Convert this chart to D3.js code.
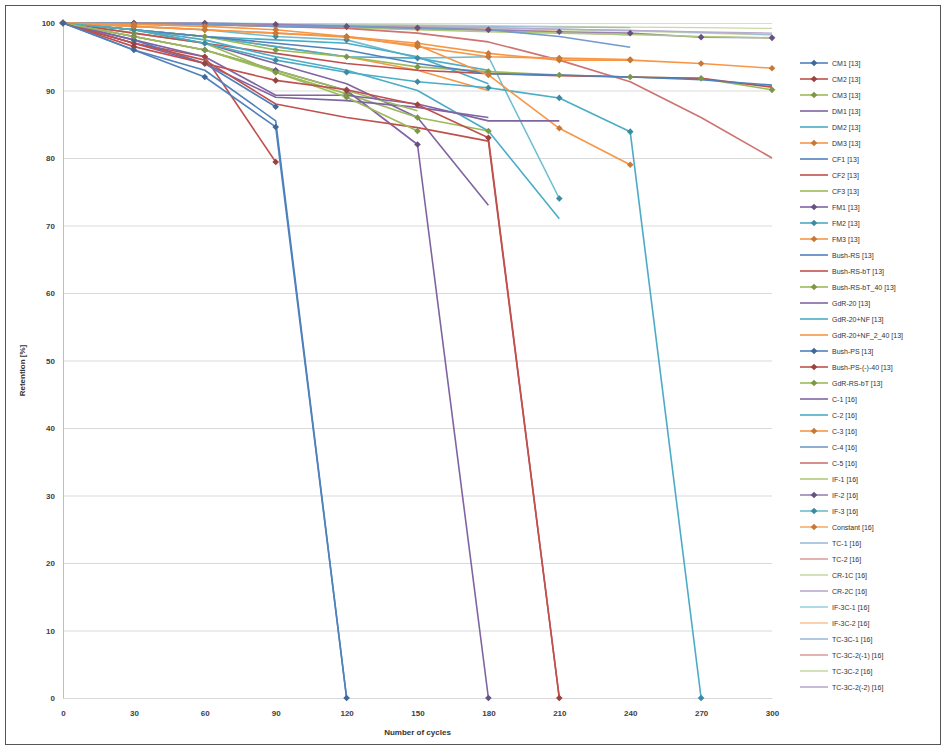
<!DOCTYPE html>
<html>
<head>
<meta charset="utf-8">
<script src="https://cdn.jsdelivr.net/npm/d3@7"></script>
<style>
  html, body { margin: 0; padding: 0; background: #fff; }
  svg { display: block; font-family: "Liberation Sans", Arial, sans-serif; }
</style>
</head>
<body>
<svg id="chart" width="946" height="749"></svg>
<script>
// ---------------- DATA ----------------
const cycles = [0, 30, 60, 90, 120, 150, 180, 210, 240, 270, 300];
const xTicks = [0, 30, 60, 90, 120, 150, 180, 210, 240, 270, 300];
const yTicks = [0, 10, 20, 30, 40, 50, 60, 70, 80, 90, 100];

const seriesNames = [
  "CM1 [13]", "CM2 [13]", "CM3 [13]", "DM1 [13]", "DM2 [13]", "DM3 [13]",
  "CF1 [13]", "CF2 [13]", "CF3 [13]", "FM1 [13]", "FM2 [13]", "FM3 [13]",
  "Bush-RS [13]", "Bush-RS-bT [13]", "Bush-RS-bT_40 [13]", "GdR-20 [13]",
  "GdR-20+NF [13]", "GdR-20+NF_2_40 [13]", "Bush-PS [13]", "Bush-PS-(-)-40 [13]",
  "GdR-RS-bT [13]", "C-1 [16]", "C-2 [16]", "C-3 [16]", "C-4 [16]", "C-5 [16]",
  "IF-1 [16]", "IF-2 [16]", "IF-3 [16]", "Constant [16]", "TC-1 [16]", "TC-2 [16]",
  "CR-1C [16]", "CR-2C [16]", "IF-3C-1 [16]", "IF-3C-2 [16]", "TC-3C-1 [16]",
  "TC-3C-2(-1) [16]", "TC-3C-2 [16]", "TC-3C-2(-2) [16]"
];

// retention [%] at each cycle count (shorter arrays = test stopped)
const cm1 = [100, 96, 92, 84.6, 0];
const cm2 = [100, 96.5, 94, 91.5, 90.1, 87.9, 83, 0];
const cm3 = [100, 98, 96, 92.7, 89, 84];
const dm1 = [100, 97.5, 95, 89.3, 89.3, 88, 85.5, 85.5];
const dm2 = [100, 99, 97.5, 95, 93, 90, 84, 71];
const dm3 = [100, 99.5, 99, 98.5, 97.9, 96.7, 92.3, 84.4, 79];
const cf1 = [100, 96, 93, 85.5, 0];
const cf2 = [100, 97, 94.5, 88, 86, 84.5, 82.5, 0];
const cf3 = [100, 98, 96, 93, 90, 87];
const fm1 = [100, 98, 96, 93, 90, 82, 0];
const fm2 = [100, 99, 97, 94.5, 92.7, 91.3, 90.4, 88.9, 83.9, 0];
const fm3 = [100, 99.5, 99, 98.5, 98, 97, 95.5, 94.5, 94.5, 94, 93.3];
const bushRS = [100, 99, 98, 97, 96, 94, 92.5, 92.3, 92, 91.6, 90.8];
const bushRSbT = [100, 98.5, 97, 95.5, 94, 93, 92.5, 92.2, 92, 91.8, 90.5];
const bushRSbT40 = [100, 99, 98, 96, 95, 93.5, 92.8, 92.3, 92, 91.8, 90.1];
const gdr20 = [100, 97, 94, 89, 88.5, 87.5, 86];
const gdr20nf = [100, 99, 98, 96.5, 95, 94.8, 93];
const gdr20nf240 = [100, 99, 98, 96.5, 95, 93, 90];
const bushPS = [100, 97.5, 94, 87.6];
const bushPS40 = [100, 97, 95, 79.4];
const gdrRSbT = [100, 98.5, 97, 92.7, 89.5, 86, 84];
const c1 = [100, 99, 97, 94, 91, 86, 73];
const c2 = [100, 99, 98, 97.5, 97, 95, 91];
const c3 = [100, 99.8, 99.5, 99, 98, 96.5, 95, 94.8, 94.6];
const c4 = [100, 100, 99.8, 99.5, 99.5, 99.2, 99, 98, 96.4];
const c5 = [100, 100, 99.8, 99.5, 99.2, 98.5, 97.2, 94.5, 91.3, 86, 80];
const if1 = [100, 100, 99.8, 99.5, 99.3, 99, 98.7, 98.5, 98.3, 98, 97.8];
const if2 = [100, 100, 100, 99.8, 99.5, 99.3, 99, 98.7, 98.5, 97.9, 97.8];
const if3 = [100, 99.5, 99, 98, 97.5, 94.8, 95, 74];
const constant = [100, 100, 99.8, 99.6, 99.4, 99.2, 99];
const tc1 = [100, 100, 99.9, 99.8, 99.7, 99.6, 99.5, 99.4, 99.3];
const tc2 = [100, 99.9, 99.8, 99.7, 99.6, 99.5, 99.4];
const cr1c = [100, 100, 99.9, 99.9, 99.8, 99.7, 99.6, 99.5, 99.4, 99.3, 99.2];
const cr2c = [100, 99.9, 99.8, 99.6, 99.5, 99.4, 99.3, 99.1, 98.9, 98.7, 98.5];
const if3c1 = [100, 100, 100, 99.9, 99.8, 99.7, 99.6];
const if3c2 = [100, 99.9, 99.8, 99.7, 99.5, 99.3, 99.1, 98.8];
const tc3c1 = [100, 100, 99.9, 99.8, 99.7, 99.5, 99.3, 99.1, 98.9, 98.6, 98.3];
const tc3c2m1 = [100, 99.9, 99.7, 99.5, 99.3, 99.1, 98.9, 98.6, 98.2];
const tc3c2 = [100, 100, 99.9, 99.8, 99.6, 99.4, 99.2, 99, 98.8, 98.5, 98.2];
const tc3c2m2 = [100, 99.9, 99.8, 99.6, 99.4, 99.2, 99, 98.7];

const seriesValues = [cm1, cm2, cm3, dm1, dm2, dm3, cf1, cf2, cf3, fm1, fm2, fm3,
  bushRS, bushRSbT, bushRSbT40, gdr20, gdr20nf, gdr20nf240, bushPS, bushPS40,
  gdrRSbT, c1, c2, c3, c4, c5, if1, if2, if3, constant, tc1, tc2, cr1c, cr2c,
  if3c1, if3c2, tc3c1, tc3c2m1, tc3c2, tc3c2m2];

// ---------------- STYLE ----------------
const palette = ["#4F81BD", "#C0504D", "#9BBB59", "#8064A2", "#4BACC6", "#F79646"];
const markerOn = [1,1,1,0,0,1, 0,0,0,1,1,1, 0,0,1,0,0,0, 1,1,1,0,0,1, 0,0,0,1,1,1, 0,0,0,0,0,0, 0,0,0,0];
function seriesColor(i) {
  const base = d3.color(palette[i % 6]);
  if (i >= 30) return d3.interpolateRgb(base, "#ffffff")(0.45);
  if (i >= 24) return d3.interpolateRgb(base, "#ffffff")(0.2);
  return base.formatHex();
}
function markerColor(i) {
  return d3.color(palette[i % 6]).darker(0.6).formatHex();
}

// ---------------- LAYOUT ----------------
const svg = d3.select("#chart");
const plot = { left: 63, right: 772, top: 23, bottom: 698 };

svg.append("rect").attr("x", 5.5).attr("y", 5.5).attr("width", 935).attr("height", 739)
  .attr("fill", "#fff").attr("stroke", "#555").attr("stroke-width", 1);

const x = d3.scaleLinear().domain([0, 300]).range([plot.left, plot.right]);
const y = d3.scaleLinear().domain([0, 100]).range([plot.bottom, plot.top]);

svg.append("g").selectAll("line").data(yTicks).join("line")
  .attr("x1", plot.left).attr("x2", plot.right)
  .attr("y1", d => y(d) + 0.5).attr("y2", d => y(d) + 0.5)
  .attr("stroke", "#d9d9d9").attr("stroke-width", 1);

const yAxis = d3.axisLeft(y).tickValues(yTicks).tickSize(0).tickPadding(8);
const gy = svg.append("g").attr("transform", `translate(${plot.left},0)`).call(yAxis);
gy.select(".domain").attr("stroke", "#bfbfbf");
gy.selectAll("text").attr("font-size", 8).attr("fill", "#404040").attr("font-weight", "bold");

const xAxis = d3.axisBottom(x).tickValues(xTicks).tickSize(0).tickPadding(12);
const gx = svg.append("g").attr("transform", `translate(0,${plot.bottom})`).call(xAxis);
gx.select(".domain").attr("stroke", "#d9d9d9");
gx.selectAll("text").attr("font-size", 8).attr("fill", "#404040").attr("font-weight", "bold");

svg.append("text").attr("transform", `translate(25,${(plot.top + plot.bottom) / 2 + 10}) rotate(-90)`)
  .attr("text-anchor", "middle").attr("font-size", 8).attr("font-weight", "bold").attr("fill", "#333")
  .text("Retention [%]");
svg.append("text").attr("x", x(150)).attr("y", 735)
  .attr("text-anchor", "middle").attr("font-size", 8).attr("font-weight", "bold").attr("fill", "#333")
  .text("Number of cycles");

const line = d3.line().x(d => x(d[0])).y(d => y(d[1]));
const series = seriesValues.map((vals, i) => ({
  i, name: seriesNames[i],
  pts: vals.map((v, k) => [cycles[k], v])
}));

const gLines = svg.append("g");
const order = series.slice().reverse();
order.forEach(s => {
  gLines.append("path").datum(s.pts)
    .attr("d", line).attr("fill", "none")
    .attr("stroke", seriesColor(s.i))
    .attr("stroke-width", s.i >= 30 ? 1.3 : 1.6)
    .attr("stroke-linejoin", "round");
});
// square rotated 45° = regular diamond marker
const sym = d3.symbol().type(d3.symbolSquare).size(22);
order.forEach(s => {
  if (!markerOn[s.i]) return;
  gLines.append("g").selectAll("path").data(s.pts).join("path")
    .attr("transform", d => `translate(${x(d[0])},${y(d[1])}) rotate(45)`)
    .attr("d", sym).attr("fill", markerColor(s.i));
});

const legend = svg.append("g");
const ly0 = 63, lstep = 16;
series.forEach(s => {
  const yy = ly0 + s.i * lstep;
  legend.append("line").attr("x1", 800).attr("x2", 828).attr("y1", yy).attr("y2", yy)
    .attr("stroke", seriesColor(s.i)).attr("stroke-width", 1.6);
  if (markerOn[s.i]) {
    legend.append("path").attr("transform", `translate(814,${yy}) rotate(45)`).attr("d", sym)
      .attr("fill", markerColor(s.i));
  }
  legend.append("text").attr("x", 832).attr("y", yy + 2.5)
    .attr("font-size", 7).attr("fill", "#333").text(s.name);
});
</script>
</body>
</html>
